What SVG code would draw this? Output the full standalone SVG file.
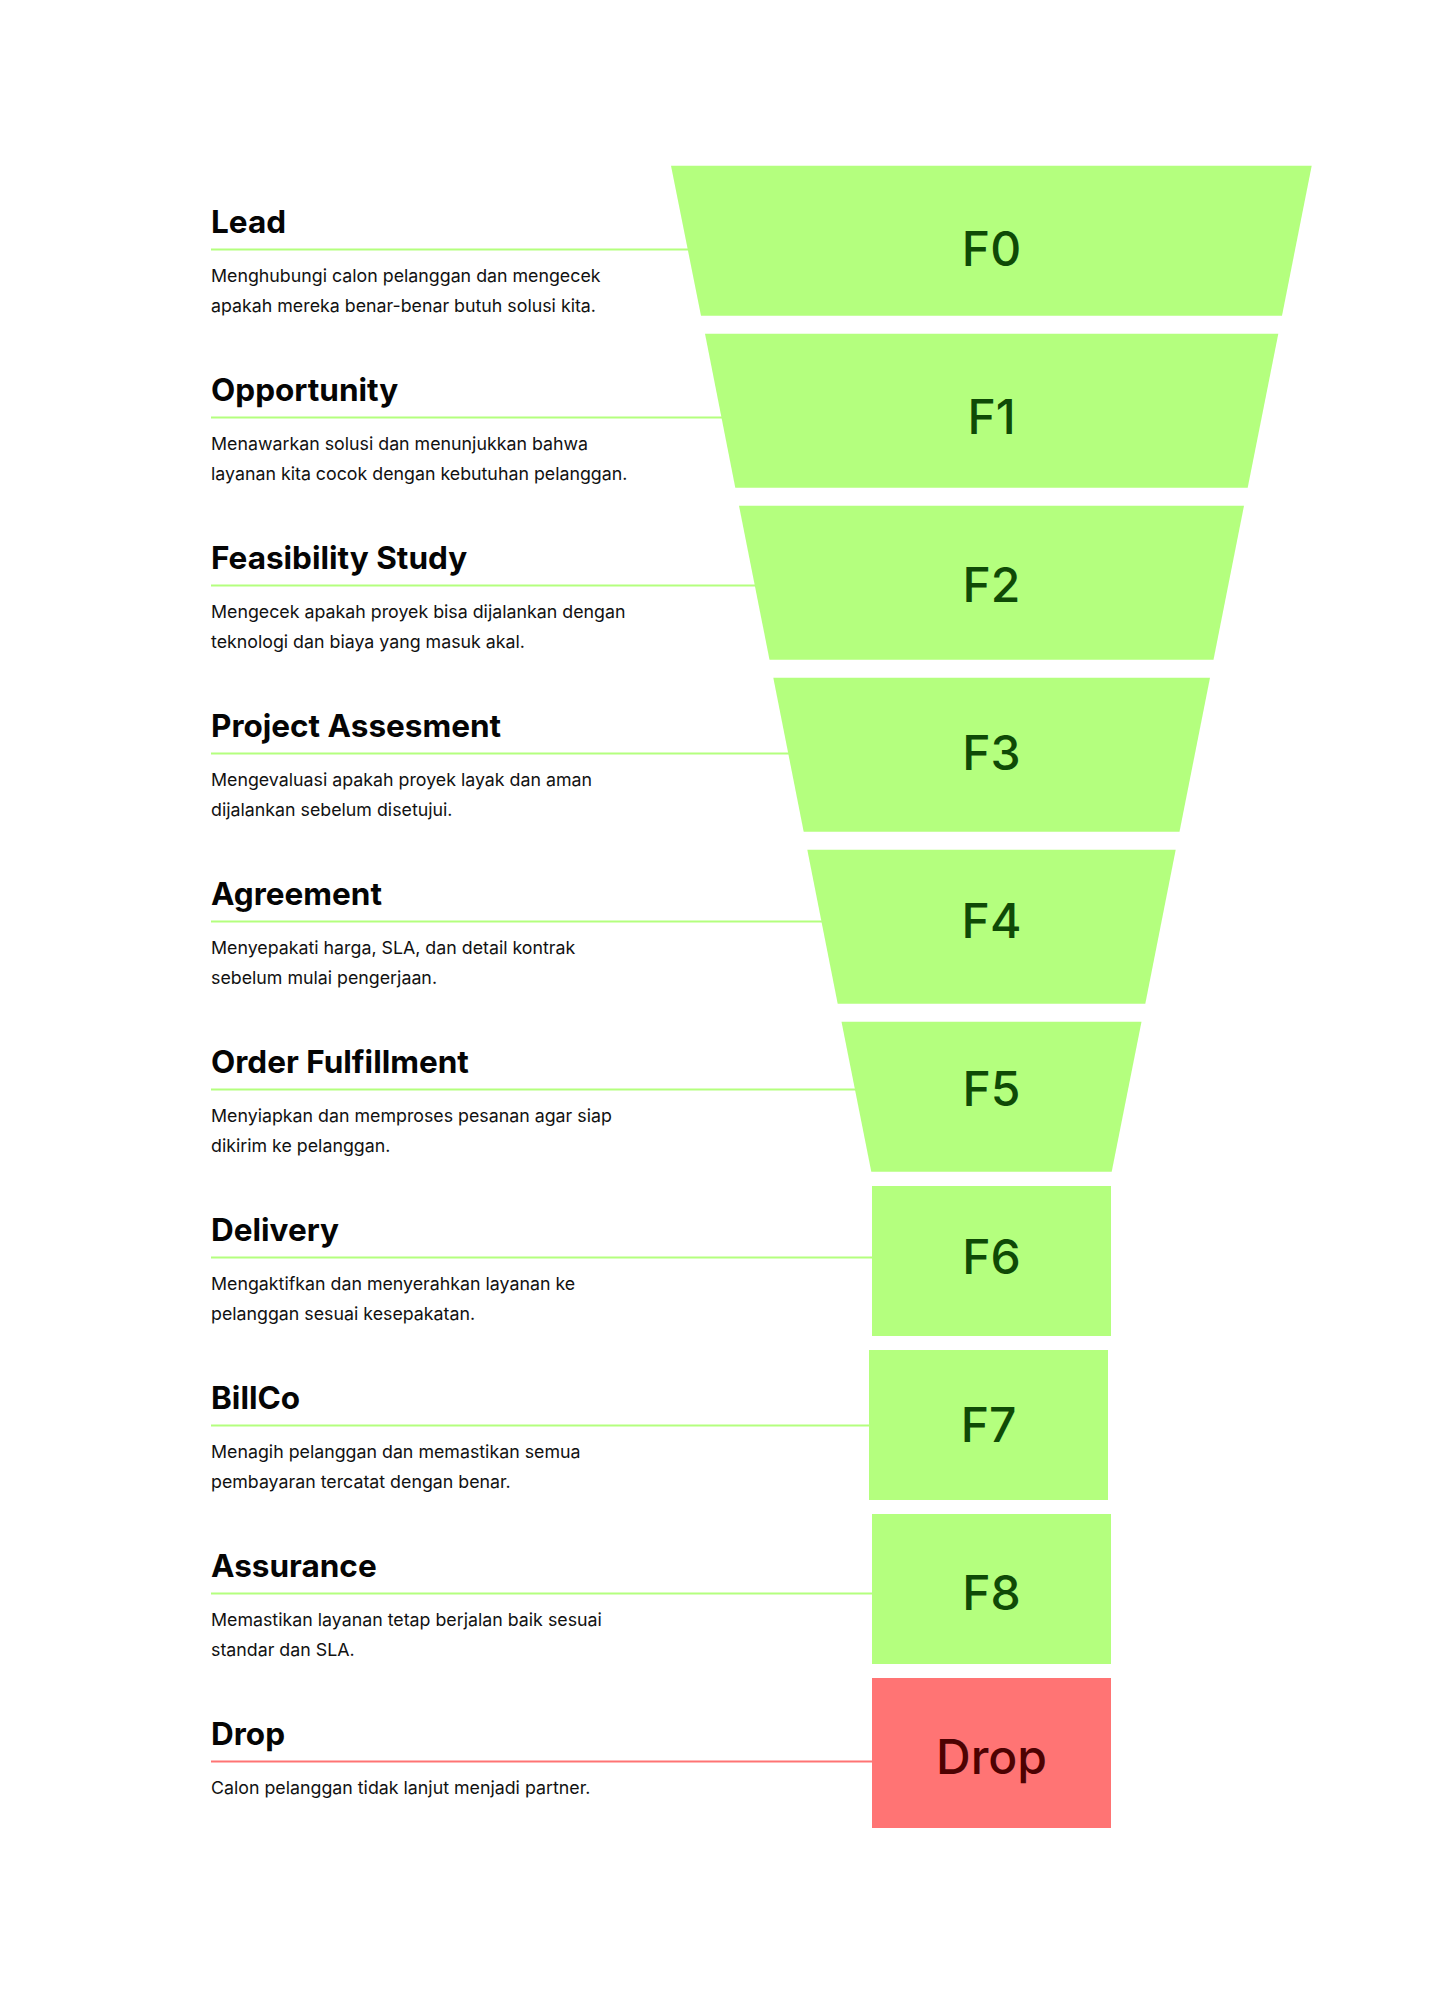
<svg xmlns="http://www.w3.org/2000/svg" width="1440" height="1993" viewBox="0 0 1440 1993">
  <style>
    .title { font-family: Inter, "Liberation Sans", sans-serif; font-size: 31.5px; font-weight: 700; fill: #050505; }
    .desc { font-family: Inter, "Liberation Sans", sans-serif; font-size: 17.8px; font-weight: 400; fill: #111111; }
    .stage { fill: #b4ff7e; }
    .stage-drop { fill: #ff7474; }
    .lbl { font-family: Inter, "Liberation Sans", sans-serif; font-size: 48px; font-weight: 500; fill: #0f4a06; text-anchor: middle; }
    .lbl-drop { font-family: Inter, "Liberation Sans", sans-serif; font-size: 48px; font-weight: 500; fill: #4d0202; text-anchor: middle; }
    .link { stroke: #b4ff7e; stroke-width: 2; fill: none; }
    .link-drop { stroke: #ff7474; stroke-width: 2; fill: none; }
  </style>
  <rect width="1440" height="1993" fill="#ffffff"/>

  <!-- leader lines from each stage description to the funnel -->
  <g id="connectors">
    <line class="link" x1="211" y1="249.5" x2="690" y2="249.5"/>
    <line class="link" x1="211" y1="417.5" x2="724" y2="417.5"/>
    <line class="link" x1="211" y1="585.5" x2="757" y2="585.5"/>
    <line class="link" x1="211" y1="753.5" x2="790" y2="753.5"/>
    <line class="link" x1="211" y1="921.5" x2="824" y2="921.5"/>
    <line class="link" x1="211" y1="1089.5" x2="857" y2="1089.5"/>
    <line class="link" x1="211" y1="1257.5" x2="874" y2="1257.5"/>
    <line class="link" x1="211" y1="1425.5" x2="871" y2="1425.5"/>
    <line class="link" x1="211" y1="1593.5" x2="874" y2="1593.5"/>
    <line class="link-drop" x1="211" y1="1761.5" x2="874" y2="1761.5"/>
  </g>

  <!-- stage descriptions -->
  <g id="text-lead">
    <text class="title" x="211" y="232.5">Lead</text>
    <text class="desc" x="211" y="282">Menghubungi calon pelanggan dan mengecek</text>
    <text class="desc" x="211" y="311.5">apakah mereka benar-benar butuh solusi kita.</text>
  </g>
  <g id="text-opportunity">
    <text class="title" x="211" y="400.5">Opportunity</text>
    <text class="desc" x="211" y="450">Menawarkan solusi dan menunjukkan bahwa</text>
    <text class="desc" x="211" y="479.5">layanan kita cocok dengan kebutuhan pelanggan.</text>
  </g>
  <g id="text-feasibility">
    <text class="title" x="211" y="568.5">Feasibility Study</text>
    <text class="desc" x="211" y="618">Mengecek apakah proyek bisa dijalankan dengan</text>
    <text class="desc" x="211" y="647.5">teknologi dan biaya yang masuk akal.</text>
  </g>
  <g id="text-assesment">
    <text class="title" x="211" y="736.5">Project Assesment</text>
    <text class="desc" x="211" y="786">Mengevaluasi apakah proyek layak dan aman</text>
    <text class="desc" x="211" y="815.5">dijalankan sebelum disetujui.</text>
  </g>
  <g id="text-agreement">
    <text class="title" x="211" y="904.5">Agreement</text>
    <text class="desc" x="211" y="954">Menyepakati harga, SLA, dan detail kontrak</text>
    <text class="desc" x="211" y="983.5">sebelum mulai pengerjaan.</text>
  </g>
  <g id="text-fulfillment">
    <text class="title" x="211" y="1072.5">Order Fulfillment</text>
    <text class="desc" x="211" y="1122">Menyiapkan dan memproses pesanan agar siap</text>
    <text class="desc" x="211" y="1151.5">dikirim ke pelanggan.</text>
  </g>
  <g id="text-delivery">
    <text class="title" x="211" y="1240.5">Delivery</text>
    <text class="desc" x="211" y="1290">Mengaktifkan dan menyerahkan layanan ke</text>
    <text class="desc" x="211" y="1319.5">pelanggan sesuai kesepakatan.</text>
  </g>
  <g id="text-billco">
    <text class="title" x="211" y="1408.5">BillCo</text>
    <text class="desc" x="211" y="1458">Menagih pelanggan dan memastikan semua</text>
    <text class="desc" x="211" y="1487.5">pembayaran tercatat dengan benar.</text>
  </g>
  <g id="text-assurance">
    <text class="title" x="211" y="1576.5">Assurance</text>
    <text class="desc" x="211" y="1626">Memastikan layanan tetap berjalan baik sesuai</text>
    <text class="desc" x="211" y="1655.5">standar dan SLA.</text>
  </g>
  <g id="text-drop">
    <text class="title" x="211" y="1744.5">Drop</text>
    <text class="desc" x="211" y="1794">Calon pelanggan tidak lanjut menjadi partner.</text>
  </g>

  <!-- funnel stages -->
  <g id="stage-f0">
    <polygon class="stage" points="671,165.7 1311.7,165.7 1282,315.7 701,315.7"/>
    <text class="lbl" x="991.5" y="265.7">F0</text>
  </g>
  <g id="stage-f1">
    <polygon class="stage" points="705,333.7 1278.3,333.7 1247.7,487.7 735.3,487.7"/>
    <text class="lbl" x="991.5" y="433.7">F1</text>
  </g>
  <g id="stage-f2">
    <polygon class="stage" points="739,505.7 1244,505.7 1213.5,659.7 769.5,659.7"/>
    <text class="lbl" x="991.5" y="601.7">F2</text>
  </g>
  <g id="stage-f3">
    <polygon class="stage" points="773.3,677.7 1210,677.7 1179.5,831.7 803.7,831.7"/>
    <text class="lbl" x="991.5" y="769.7">F3</text>
  </g>
  <g id="stage-f4">
    <polygon class="stage" points="807.3,849.7 1175.7,849.7 1145.3,1003.7 837.7,1003.7"/>
    <text class="lbl" x="991.5" y="937.7">F4</text>
  </g>
  <g id="stage-f5">
    <polygon class="stage" points="841.5,1021.7 1141.5,1021.7 1111.7,1171.7 871.3,1171.7"/>
    <text class="lbl" x="991.5" y="1105.7">F5</text>
  </g>
  <g id="stage-f6">
    <rect class="stage" x="872" y="1186" width="239" height="150"/>
    <text class="lbl" x="991.5" y="1273.7">F6</text>
  </g>
  <g id="stage-f7">
    <rect class="stage" x="869" y="1350" width="239" height="150"/>
    <text class="lbl" x="988.5" y="1441.7">F7</text>
  </g>
  <g id="stage-f8">
    <rect class="stage" x="872" y="1514" width="239" height="150"/>
    <text class="lbl" x="991.5" y="1609.7">F8</text>
  </g>
  <g id="stage-drop">
    <rect class="stage-drop" x="872" y="1678" width="239" height="150"/>
    <text class="lbl-drop" x="991.5" y="1774.3">Drop</text>
  </g>
</svg>
